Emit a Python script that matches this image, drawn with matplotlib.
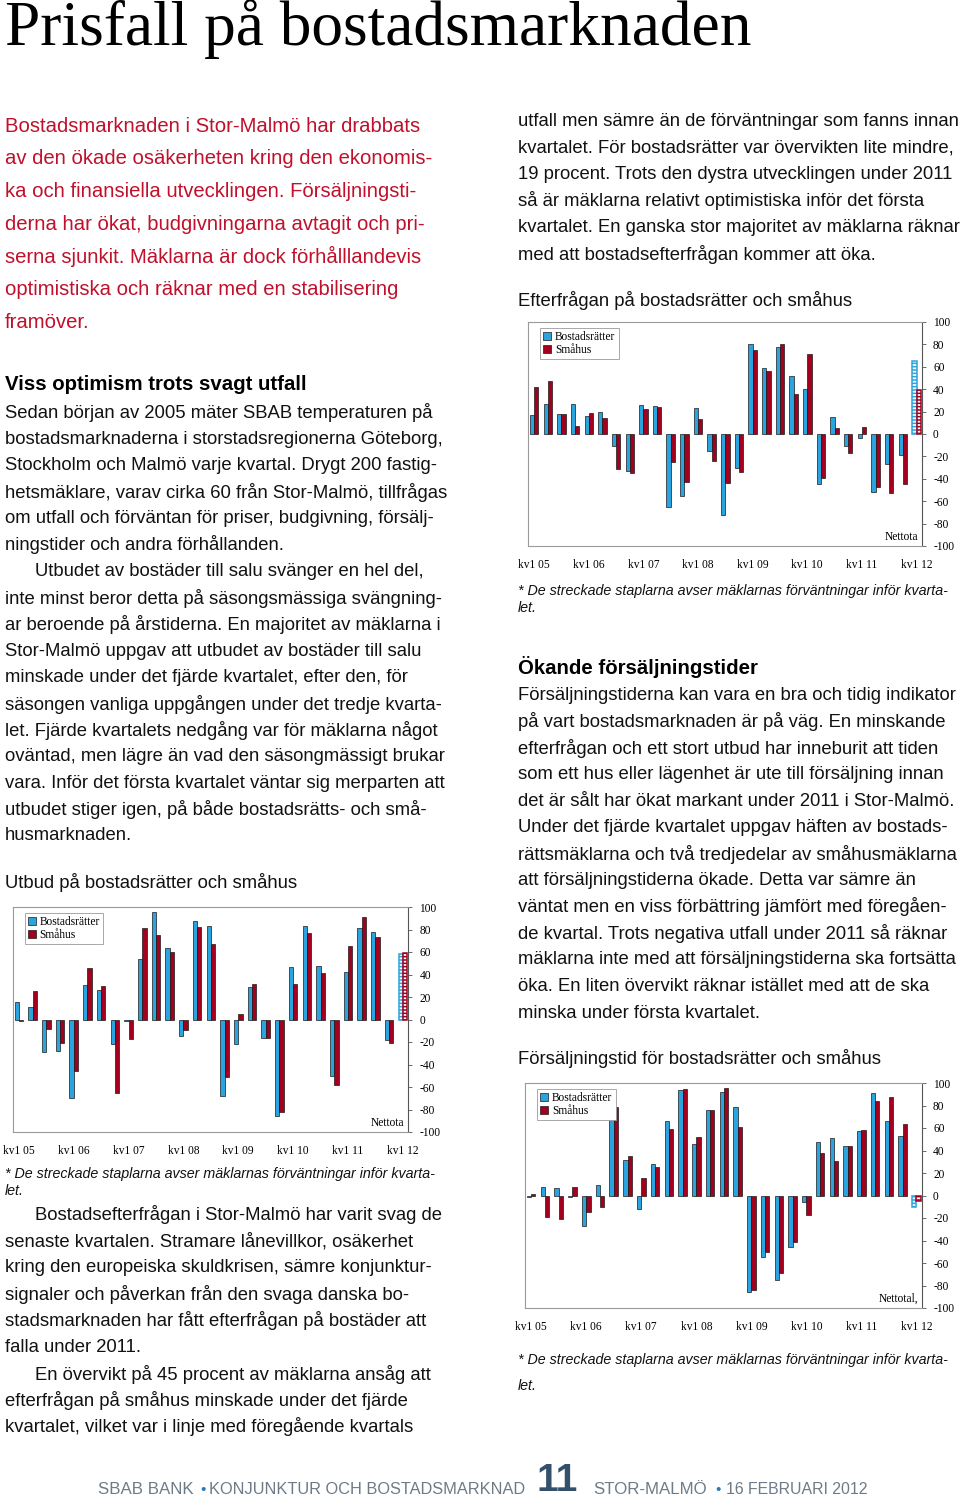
import matplotlib
matplotlib.use('Agg')
import matplotlib.pyplot as plt
from matplotlib.patches import Patch
import numpy as np

plt.rcParams['axes.unicode_minus'] = False
plt.rcParams['hatch.linewidth'] = 1.3

# ---------------------------------------------------------------
# Data (net share of brokers, Q1 2005 - Q1 2012)
# last quarter = brokers' expectation (dashed bars)
# ---------------------------------------------------------------
tick_labels = ['kv1 05', 'kv1 06', 'kv1 07', 'kv1 08', 'kv1 09', 'kv1 10', 'kv1 11', 'kv1 12']
series_names = ['Bostadsrätter', 'Småhus']

utbud_br = [16, 11, -29, -28, -70, 31, 26, -22, -1, 54, 96, 64, -15, 88, 83,
            -68, -22, 29, -16, -86, 47, 83, 48, -50, 42, 81, 78, -18, 58]
utbud_sm = [-1, 25, -8, -21, -46, 46, 30, -65, -17, 81, 75, 60, -9, 82, 67,
            -51, 5, 32, -16, -82, 32, 77, 41, -58, 65, 91, 73, -21, 59]

efterfr_br = [17, 27, 18, 27, 16, 20, -11, -33, 26, 25, -65, -55, 23, -15, -72,
              -30, 80, 59, 78, 52, 40, -45, 15, -11, -4, -52, -27, -19, 65]
efterfr_sm = [42, 47, 18, 7, 19, 14, -31, -35, 22, 24, -25, -43, 13, -24, -44,
              -34, 75, 56, 80, 36, 71, -39, 5, -17, 6, -47, -53, -45, 39]

tid_br = [-1, 8, 7, -1, -27, 9, 68, 32, -12, 28, 66, 94, 46, 76, 92,
          79, -86, -55, -75, -46, -6, 48, 51, 44, 57, 91, 66, 53, -10]
tid_sm = [1, -19, -21, 8, -15, -10, 79, 35, 16, 25, 59, 95, 52, 76, 96,
          61, -84, -50, -69, -41, -17, 38, 31, 44, 58, 84, 88, 64, -5]

# ---------------------------------------------------------------
# Page text
# ---------------------------------------------------------------
title = 'Prisfall på bostadsmarknaden'

ingress = ['Bostadsmarknaden i Stor-Malmö har drabbats',
           'av den ökade osäkerheten kring den ekonomis-',
           'ka och finansiella utvecklingen. Försäljningsti-',
           'derna har ökat, budgivningarna avtagit och pri-',
           'serna sjunkit. Mäklarna är dock förhålllandevis',
           'optimistiska och räknar med en stabilisering',
           'framöver.']

left_a = ['Sedan början av 2005 mäter SBAB temperaturen på',
          'bostadsmarknaderna i storstadsregionerna Göteborg,',
          'Stockholm och Malmö varje kvartal. Drygt 200 fastig-',
          'hetsmäklare, varav cirka 60 från Stor-Malmö, tillfrågas',
          'om utfall och förväntan för priser, budgivning, försälj-',
          'ningstider och andra förhållanden.']
left_b = ['Utbudet av bostäder till salu svänger en hel del,',
          'inte minst beror detta på säsongsmässiga svängning-',
          'ar beroende på årstiderna. En majoritet av mäklarna i',
          'Stor-Malmö uppgav att utbudet av bostäder till salu',
          'minskade under det fjärde kvartalet, efter den, för',
          'säsongen vanliga uppgången under det tredje kvarta-',
          'let. Fjärde kvartalets nedgång var för mäklarna något',
          'oväntad, men lägre än vad den säsongmässigt brukar',
          'vara. Inför det första kvartalet väntar sig merparten att',
          'utbudet stiger igen, på både bostadsrätts- och små-',
          'husmarknaden.']
left_c = ['Bostadsefterfrågan i Stor-Malmö har varit svag de',
          'senaste kvartalen. Stramare lånevillkor, osäkerhet',
          'kring den europeiska skuldkrisen, sämre konjunktur-',
          'signaler och påverkan från den svaga danska bo-',
          'stadsmarknaden har fått efterfrågan på bostäder att',
          'falla under 2011.']
left_d = ['En övervikt på 45 procent av mäklarna ansåg att',
          'efterfrågan på småhus minskade under det fjärde',
          'kvartalet, vilket var i linje med föregående kvartals']

right_a = ['utfall men sämre än de förväntningar som fanns innan',
           'kvartalet. För bostadsrätter var övervikten lite mindre,',
           '19 procent. Trots den dystra utvecklingen under 2011',
           'så är mäklarna relativt optimistiska inför det första',
           'kvartalet. En ganska stor majoritet av mäklarna räknar',
           'med att bostadsefterfrågan kommer att öka.']
right_b = ['Försäljningstiderna kan vara en bra och tidig indikator',
           'på vart bostadsmarknaden är på väg. En minskande',
           'efterfrågan och ett stort utbud har inneburit att tiden',
           'som ett hus eller lägenhet är ute till försäljning innan',
           'det är sålt har ökat markant under 2011 i Stor-Malmö.',
           'Under det fjärde kvartalet uppgav häften av bostads-',
           'rättsmäklarna och två tredjedelar av småhusmäklarna',
           'att försäljningstiderna ökade. Detta var sämre än',
           'väntat men en viss förbättring jämfört med föregåen-',
           'de kvartal. Trots negativa utfall under 2011 så räknar',
           'mäklarna inte med att försäljningstiderna ska fortsätta',
           'öka. En liten övervikt räknar istället med att de ska',
           'minska under första kvartalet.']

note = ['* De streckade staplarna avser mäklarnas förväntningar inför kvarta-', 'let.']

RED = '#c0102c'
BLUE = '#2ba3de'
DARKRED = '#a3001e'
SANS = 'Liberation Sans'
SERIF = 'Liberation Serif'

W, H = 960, 1500
fig = plt.figure(figsize=(W / 100, H / 100), dpi=100)
bg = fig.add_axes([0, 0, 1, 1])
bg.set_xlim(0, W)
bg.set_ylim(H, 0)
bg.axis('off')


def para(lines, x, y0, step, indent=0, **kw):
    for i, line in enumerate(lines):
        xx = x + (indent if i == 0 else 0)
        bg.text(xx, y0 + i * step, line, va='center', ha='left', **kw)


body = dict(family=SANS, fontsize=13.3, color='#111111')
head = dict(family=SANS, fontsize=14.7, fontweight='bold', color='black')
foot = dict(family=SANS, fontsize=10.3, style='italic', color='#111111')

bg.text(5, 45, title, family=SERIF, fontsize=45.6, va='baseline', ha='left', color='black')

# left column
para(ingress, 5, 126, 32.7, family=SANS, fontsize=14.6, color=RED)
bg.text(5, 385, 'Viss optimism trots svagt utfall', va='center', **head)
para(left_a, 5, 413, 26.4, **body)
para(left_b, 5, 572, 26.4, indent=30, **body)
bg.text(5, 882, 'Utbud på bostadsrätter och småhus', va='center', **body)
para(note, 5, 1174, 17, **foot)
para(left_c, 5, 1215, 26.4, indent=30, **body)
para(left_d, 5, 1374, 26.4, indent=30, **body)

# right column
para(right_a, 518, 121, 26.6, **body)
bg.text(518, 300, 'Efterfrågan på bostadsrätter och småhus', va='center', **body)
para(note, 518, 591, 17, **foot)
bg.text(518, 667, 'Ökande försäljningstider', va='center', **head)
para(right_b, 518, 695, 26.5, **body)
bg.text(518, 1059, 'Försäljningstid för bostadsrätter och småhus', va='center', **body)
para(note, 518, 1360, 26, **foot)

# footer
fgray = '#6d7b88'
bg.text(98, 1490, 'SBAB BANK', family=SANS, fontsize=12.2, color=fgray, va='center')
bg.text(203, 1490, '•', family=SANS, fontsize=11, color='#2a78b8', va='center', ha='center')
bg.text(209, 1490, 'KONJUNKTUR OCH BOSTADSMARKNAD', family=SANS, fontsize=11.8,
        color=fgray, va='center')
bg.text(557, 1481, '11', family=SANS, fontsize=28, fontweight='bold', color='#34506a',
        va='center', ha='center')
bg.text(593, 1490, 'STOR-MALMÖ', family=SANS, fontsize=12.2, color=fgray, va='center')
bg.text(718, 1490, '•', family=SANS, fontsize=11, color='#2a78b8', va='center', ha='center')
bg.text(726, 1490, '16 FEBRUARI 2012', family=SANS, fontsize=11.4, color=fgray, va='center')


def draw_chart(box, br, sm, corner_text):
    x0, y0, x1, y1 = box
    ax = fig.add_axes([x0 / W, 1 - y1 / H, (x1 - x0) / W, (y1 - y0) / H])
    n = len(br)
    x = np.arange(n)
    w = 0.31
    for offs, vals, col in ((-w / 2, br, BLUE), (w / 2, sm, DARKRED)):
        # observed quarters
        ax.bar(x[:-1] + offs, vals[:-1], w, color=col, edgecolor='#1a1a1a', linewidth=0.5)
        # expectation: coloured bar with white dashes inside a coloured border
        ax.bar(x[-1] + offs, vals[-1], w, color=col, linewidth=0)
        ax.bar(x[-1] + offs, vals[-1], w, facecolor='none', edgecolor='white',
               hatch='-----', linewidth=0)
        ax.bar(x[-1] + offs, vals[-1], w, facecolor='none', edgecolor=col, linewidth=1.1)

    ax.set_xlim(-0.45, n - 0.6)
    ax.set_ylim(-100, 100)
    ax.set_yticks(np.arange(-100, 101, 20))
    ax.yaxis.tick_right()
    ax.tick_params(axis='y', direction='out', length=3, width=0.6, color='#555555',
                   pad=5, labelsize=8.3)
    for lab in ax.get_yticklabels():
        lab.set_family(SERIF)
    ax.set_xticks(np.arange(0, n, 4))
    ax.set_xticklabels(tick_labels, family=SERIF, fontsize=8.3)
    ax.tick_params(axis='x', length=0, pad=9)
    for s in ax.spines.values():
        s.set_color('#9a9a9a')
        s.set_linewidth(0.8)
    ax.spines['right'].set_color('#555555')

    ax.text(0.99, 0.04, corner_text, transform=ax.transAxes, ha='right', va='center',
            family=SERIF, fontsize=8.3)
    handles = [Patch(facecolor=BLUE, edgecolor='#1a1a1a', linewidth=0.5, label=series_names[0]),
               Patch(facecolor=DARKRED, edgecolor='#1a1a1a', linewidth=0.5, label=series_names[1])]
    leg = ax.legend(handles=handles, loc='upper left', bbox_to_anchor=(0.03, 0.975),
                    borderaxespad=0, fancybox=False, edgecolor='#9a9a9a', framealpha=1,
                    handlelength=0.7, handleheight=0.7, handletextpad=0.3,
                    labelspacing=0.05, borderpad=0.3, prop={'family': SERIF, 'size': 8.3})
    leg.get_frame().set_linewidth(0.6)
    return ax


draw_chart((12.7, 907, 408.3, 1132), utbud_br, utbud_sm, 'Nettota')
draw_chart((528, 322, 922, 546), efterfr_br, efterfr_sm, 'Nettota')
draw_chart((525, 1083, 922, 1308), tid_br, tid_sm, 'Nettotal,')

fig.savefig('out.png', dpi=100)
